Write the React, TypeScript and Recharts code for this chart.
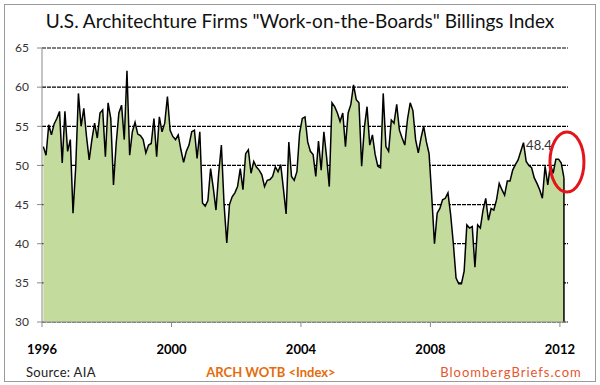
import React from "react";
import {
  AreaChart,
  Area,
  XAxis,
  YAxis,
  CartesianGrid,
  ReferenceLine,
  ReferenceDot,
} from "recharts";

const firstYear = 1996;
const yearTicks = [1996, 2000, 2004, 2008, 2012];
const indexTicks = [30, 35, 40, 45, 50, 55, 60, 65];

// ARCH WOTB monthly readings, Jan 1996 .. Feb 2012
const billings = [
  52.4, 51.3, 55.2, 53.9, 55.3, 56.0, 56.9, 50.3, 56.9, 51.8, 53.3, 43.9,
  49.8, 59.2, 55.0, 57.3, 53.7, 50.7, 53.3, 55.4, 53.5, 56.7, 57.1, 51.1,
  58.0, 56.0, 47.5, 52.8, 56.7, 57.7, 53.3, 62.1, 51.3, 54.3, 55.5, 54.0,
  53.8, 53.3, 51.6, 52.6, 52.8, 56.0, 51.1, 56.2, 54.3, 55.4, 58.8, 54.5,
  53.7, 53.3, 53.9, 52.0, 50.4, 51.8, 52.6, 54.3, 54.5, 50.9, 54.3, 45.2,
  44.8, 45.5, 49.6, 47.1, 44.3, 49.0, 52.6, 45.0, 40.1, 45.0, 46.0, 46.5,
  47.3, 49.6, 46.9, 51.5, 52.0, 49.0, 50.5, 49.8, 49.4, 48.8, 47.3, 48.1,
  48.2, 48.6, 49.8, 49.2, 50.1, 47.0, 43.8, 53.0, 48.6, 48.1, 49.2, 54.1,
  56.0, 56.2, 53.0, 51.8, 51.4, 48.6, 53.1, 49.4, 54.3, 51.1, 47.3, 58.0,
  57.5, 56.7, 55.6, 56.7, 52.4, 56.7, 57.8, 60.3, 58.4, 58.0, 49.9, 54.8,
  57.5, 52.6, 53.9, 51.4, 49.9, 49.7, 59.2, 52.4, 51.8, 55.8, 55.4, 57.8,
  54.5, 53.5, 52.6, 55.9, 58.0, 57.0, 53.3, 51.6, 53.5, 55.0, 53.0, 51.5,
  46.0, 40.0, 43.9, 44.5, 45.6, 45.8, 46.5, 43.7, 40.0, 35.6, 34.9, 34.9,
  36.5, 42.4, 42.0, 42.2, 37.0, 42.4, 42.0, 44.3, 45.8, 43.0, 44.5, 44.3,
  45.6, 47.7, 46.9, 46.2, 48.0, 48.0, 49.4, 50.1, 50.7, 51.8, 52.9, 50.5,
  50.0, 49.7, 48.4, 47.7, 46.9, 45.8, 49.9, 47.5, 50.1, 49.0, 50.8, 50.8,
  50.3, 48.4,
];

const data = billings.map((v, i) => ({ t: firstYear + (i + 0.5) / 12, v }));
const last = data[data.length - 1];

const FONT = "Lato, 'Open Sans', sans-serif";
const AXIS = "#8a8a8a";

// latest reading label + the red circle around the last few months
function Callout({ cx, cy }: any) {
  return (
    <g>
      <text
        x={cx - 25}
        y={cy - 28}
        textAnchor="middle"
        fontSize={13}
        fill="#333"
        fontFamily={FONT}
      >
        {last.v.toFixed(1)}
      </text>
      <ellipse
        cx={cx + 3}
        cy={cy - 16}
        rx={17}
        ry={30}
        fill="none"
        stroke="#e3151b"
        strokeWidth={3}
      />
    </g>
  );
}

export default function App() {
  return (
    <div
      style={{
        position: "absolute",
        left: 0,
        top: 0,
        width: 600,
        height: 385,
        background: "#fff",
        fontFamily: FONT,
      }}
    >
      <div
        style={{
          position: "absolute",
          left: 4,
          top: 4,
          width: 590,
          height: 376,
          border: "1px solid #9a9a9a",
        }}
      />
      <div
        style={{
          position: "absolute",
          left: 0,
          top: 10,
          width: 600,
          textAlign: "center",
          fontSize: 19,
          lineHeight: "22px",
          color: "#111",
        }}
      >
        U.S. Architechture Firms "Work-on-the-Boards" Billings Index
      </div>
      <AreaChart
        width={600}
        height={385}
        data={data}
        margin={{ top: 48, right: 32, bottom: 0, left: 0 }}
        style={{ position: "absolute", left: 0, top: 0 }}
      >
        <CartesianGrid
          vertical={false}
          stroke="#000"
          strokeWidth={1.2}
          strokeDasharray="4 1"
        />
        <XAxis
          dataKey="t"
          type="number"
          domain={[1996, 2012.25]}
          ticks={yearTicks}
          tickFormatter={(y) => String(y)}
          height={63}
          stroke={AXIS}
          tickSize={5}
          tickMargin={18}
          tick={{ fill: "#000", fontSize: 13, fontWeight: 700, fontFamily: FONT }}
        />
        <YAxis
          domain={[30, 65]}
          ticks={indexTicks}
          width={42}
          stroke={AXIS}
          tickSize={5}
          tickMargin={8}
          tick={{ fill: "#333", fontSize: 12, fontFamily: FONT }}
        />
        <Area
          type="linear"
          dataKey="v"
          stroke="#000"
          strokeWidth={1.5}
          fill="#c3dc9e"
          fillOpacity={1}
          dot={false}
          activeDot={false}
          isAnimationActive={false}
        />
        <ReferenceLine
          segment={[
            { x: last.t, y: 30 },
            { x: last.t, y: last.v },
          ]}
          stroke="#000"
          strokeWidth={1.5}
        />
        <ReferenceDot x={last.t} y={last.v} shape={Callout} />
      </AreaChart>
      <div
        style={{
          position: "absolute",
          left: 26,
          top: 365,
          fontSize: 13,
          lineHeight: "15px",
          letterSpacing: 0.3,
          color: "#222",
        }}
      >
        Source: AIA
      </div>
      <div
        style={{
          position: "absolute",
          left: 171,
          top: 365,
          width: 200,
          textAlign: "center",
          fontSize: 13,
          lineHeight: "15px",
          fontWeight: 700,
          color: "#e46c0a",
        }}
      >
        ARCH WOTB &lt;Index&gt;
      </div>
      <div
        style={{
          position: "absolute",
          left: 430,
          top: 365,
          width: 162,
          textAlign: "center",
          fontSize: 13,
          lineHeight: "15px",
          letterSpacing: 1,
          color: "#e4572e",
        }}
      >
        BloombergBriefs.com
      </div>
    </div>
  );
}
